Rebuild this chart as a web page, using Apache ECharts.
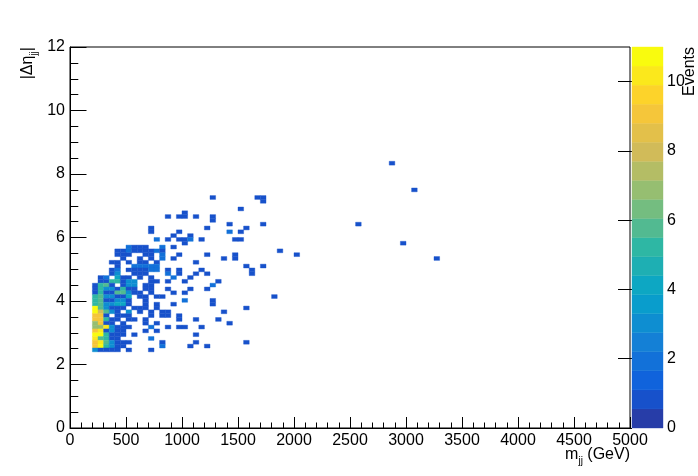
<!DOCTYPE html>
<html>
<head>
<meta charset="utf-8">
<script src="https://cdn.jsdelivr.net/npm/echarts@6/dist/echarts.min.js"></script>
<style>
html,body{margin:0;padding:0;background:#fff;}
#c{width:698px;height:476px;}
</style>
</head>
<body>
<div id="c"></div>
<script>
// ---------------- data ----------------
const mjjBinWidth = 50;      // GeV
const detaBinWidth = 0.12;   // |delta eta| bin
const zMax = 11;             // colour scale max
const nContours = 20;
const xTicks = [0, 5000, 500];
const yTicks = [0, 12, 2];
const zLabels = [0, 2, 4, 6, 8, 10];

// rows: [deta bin index, [[mjj bin index, events], ...]]
const upperRows = [
  [69, [[57,1]]],
  [62, [[61,1]]],
  [60, [[25,1],[33,1],[34,1]]],
  [59, [[34,1]]],
  [57, [[30,1]]],
  [56, [[20,1]]],
  [55, [[17,1],[19,1],[20,1],[22,1],[25,1]]],
  [54, [[25,1]]],
  [53, [[28,1],[34,1],[51,1]]],
  [52, [[14,1],[24,1],[31,1]]],
  [51, [[14,1],[19,1],[28,2],[30,1]]],
  [50, [[18,1],[21,1]]],
  [49, [[15,2],[17,1],[19,1],[20,1],[21,2],[23,1],[29,1],[30,1]]],
  [48, [[20,1],[59,1]]],
  [47, [[10,2],[11,1],[12,1],[13,1],[16,2],[18,1]]],
  [46, [[8,1],[9,1],[10,2],[11,1],[12,1],[13,1],[14,1],[15,2],[16,1],[37,1]]],
  [45, [[8,1],[9,1],[10,1],[13,1],[14,1],[16,2],[19,1],[24,1],[29,1],[40,1]]],
  [44, [[9,1],[12,1],[14,1],[16,2],[18,1],[27,1],[29,1],[65,1]]],
  [43, [[7,1],[8,1],[10,1],[12,1],[13,1],[15,1],[22,1]]],
  [42, [[8,1],[11,2],[12,2],[13,2],[14,2],[15,2],[31,1],[34,1]]],
  [41, [[7,1],[8,2],[10,1],[11,1],[12,1],[13,1],[14,2],[15,2],[17,1],[19,1],[23,1],[32,1]]],
  [40, [[7,1],[8,3],[11,1],[12,1],[13,1],[17,2],[19,1],[22,1],[24,1],[32,1]]]
];
const lowerRows = [
  [39, [[5,1],[6,2],[8,4],[9,1],[10,1],[12,1],[14,1],[18,2],[21,1]]],
  [38, [[5,1],[6,1],[7,5],[8,5],[9,1],[10,3],[11,3],[14,1],[15,1],[17,1],[20,1],[26,1]]],
  [37, [[4,1],[5,5],[6,6],[7,1],[9,1],[10,3],[11,3],[13,1],[14,1],[25,2]]],
  [36, [[4,1],[5,5],[6,3],[7,3],[8,1],[9,5],[10,1],[11,1],[13,1],[14,1],[17,1],[21,1],[24,1]]],
  [35, [[4,1],[5,5],[6,1],[7,1],[8,6],[9,6],[10,3],[11,1],[12,1],[14,1],[18,1],[20,1]]],
  [34, [[4,5],[5,6],[6,3],[7,3],[8,1],[9,1],[10,4],[12,1],[13,1],[15,1],[16,1],[36,1]]],
  [33, [[4,5],[5,6],[6,1],[7,1],[8,3],[9,3],[10,1],[13,1],[20,2],[25,1]]],
  [32, [[4,5],[5,6],[6,3],[7,3],[8,4],[9,4],[10,1],[13,1],[15,1],[18,1],[25,1]]],
  [31, [[4,11],[5,6],[6,3],[7,1],[8,1],[9,1],[11,1],[12,1],[13,1],[15,1],[31,1]]],
  [30, [[4,11],[5,8],[6,6],[7,3],[8,1],[10,3],[12,1],[14,1],[16,1],[17,1],[27,1]]],
  [29, [[4,9],[5,9],[6,1],[8,1],[9,1],[10,1],[14,1],[16,1],[17,1],[19,1]]],
  [28, [[4,9],[5,9],[6,5],[7,1],[8,1],[10,1],[11,1],[13,1],[19,1],[22,1],[26,1]]],
  [27, [[4,7],[5,9],[6,1],[7,1],[9,1],[13,1],[15,1],[28,1]]],
  [26, [[4,7],[5,7],[6,10],[7,3],[8,1],[9,1],[10,1],[14,2],[17,1],[19,1],[20,1],[23,1]]],
  [25, [[4,9],[5,10],[6,1],[7,3],[8,1],[9,1],[13,1],[15,1]]],
  [24, [[4,11],[5,11],[6,5],[7,1],[8,1],[9,1],[11,1],[22,1]]],
  [23, [[4,10],[5,6],[6,5],[7,1],[8,1],[14,2]]],
  [22, [[4,9],[5,10],[6,6],[7,3],[8,1],[9,1],[10,1],[16,1],[22,1],[31,1]]],
  [21, [[4,9],[5,11],[6,5],[7,3],[8,1],[9,1],[16,2],[21,1],[24,1]]],
  [20, [[4,3],[5,1],[6,1],[7,1],[8,1],[10,1],[14,1]]]
];

// ROOT kBird palette stops
const palStops = [0.0, 0.125, 0.25, 0.375, 0.5, 0.625, 0.75, 0.875, 1.0];
const palR = [0.2082, 0.0592, 0.0780, 0.0232, 0.1802, 0.5301, 0.8186, 0.9956, 0.9764];
const palG = [0.1664, 0.3599, 0.5041, 0.6419, 0.7178, 0.7492, 0.7328, 0.7862, 0.9832];
const palB = [0.5293, 0.8684, 0.8385, 0.7914, 0.6425, 0.4662, 0.3499, 0.1968, 0.0539];

// ---------------- build ----------------
function palColor(f) {
  let s = 0;
  while (s < palStops.length - 2 && f > palStops[s + 1]) s++;
  const t = (f - palStops[s]) / (palStops[s + 1] - palStops[s]);
  const c = a => Math.round(255 * (a[s] + t * (a[s + 1] - a[s])));
  return 'rgb(' + c(palR) + ',' + c(palG) + ',' + c(palB) + ')';
}
const step = zMax / nContours;
const pieces = [];
const barData = [];
for (let k = 0; k < nContours; k++) {
  const idx = Math.floor((k + 0.99) * 255 / nContours);
  const col = palColor(Math.min(idx, 254) / 254);
  const p = { gte: k * step, color: col };
  if (k < nContours - 1) p.lt = (k + 1) * step;
  pieces.push(p);
  barData.push([0, k * step, (k + 0.5) * step]);
}
const histData = [];
upperRows.concat(lowerRows).forEach(([j, cells]) => {
  cells.forEach(([i, n]) => histData.push([i * mjjBinWidth, +(j * detaBinWidth).toFixed(2), n]));
});

const font = '"Liberation Sans", Arial, Helvetica, sans-serif';
const plain = v => String(v);
const chart = echarts.init(document.getElementById('c'), null, { renderer: 'canvas' });

chart.setOption({
  backgroundColor: '#ffffff',
  animation: false,
  grid: [
    { left: 70, top: 47, width: 560, height: 381, show: true, borderColor: '#000', borderWidth: 1, backgroundColor: 'transparent' },
    { left: 632, top: 47, width: 31, height: 381, show: false }
  ],
  xAxis: [
    {
      gridIndex: 0, type: 'value', min: xTicks[0], max: xTicks[1], interval: xTicks[2],
      axisLine: { show: true, lineStyle: { color: '#000', width: 1 } },
      axisTick: { show: true, inside: true, length: 11, lineStyle: { color: '#000' } },
      minorTick: { show: true, splitNumber: 5, length: 5.5, lineStyle: { color: '#000' } },
      splitLine: { show: false },
      axisLabel: { color: '#000', fontSize: 16, fontFamily: font, margin: 5, formatter: plain }
    },
    { gridIndex: 1, type: 'value', min: 0, max: 1, show: false }
  ],
  yAxis: [
    {
      gridIndex: 0, type: 'value', min: yTicks[0], max: yTicks[1], interval: yTicks[2],
      axisLine: { show: true, lineStyle: { color: '#000', width: 1 } },
      axisTick: { show: true, inside: true, length: 16.5, lineStyle: { color: '#000' } },
      minorTick: { show: true, splitNumber: 4, length: 8.3, lineStyle: { color: '#000' } },
      splitLine: { show: false },
      axisLabel: { color: '#000', fontSize: 16, fontFamily: font, margin: 5, formatter: plain }
    },
    {
      gridIndex: 1, type: 'value', min: 0, max: zMax, position: 'right',
      axisLine: { show: false },
      axisTick: { show: true, inside: true, length: 14, customValues: zLabels, lineStyle: { color: '#000' } },
      splitLine: { show: false },
      axisLabel: { color: '#000', fontSize: 16, fontFamily: font, margin: 4, customValues: zLabels, formatter: plain }
    }
  ],
  visualMap: {
    type: 'piecewise', show: false, dimension: 2, seriesIndex: [0, 1], pieces: pieces
  },
  series: [
    {
      type: 'custom', xAxisIndex: 0, yAxisIndex: 0, data: histData,
      encode: { x: 0, y: 1 }, clip: true,
      renderItem: function (params, api) {
        const x0 = api.value(0), y0 = api.value(1);
        const p0 = api.coord([x0, y0]);
        const p1 = api.coord([x0 + mjjBinWidth, y0 + detaBinWidth]);
        const col = api.visual('color');
        return { type: 'rect', shape: { x: p0[0], y: p1[1], width: p1[0] - p0[0], height: p0[1] - p1[1] },
                 style: { fill: col, stroke: col, lineWidth: 0.4 } };
      }
    },
    {
      type: 'custom', xAxisIndex: 1, yAxisIndex: 1, data: barData,
      encode: { x: 0, y: 1 },
      renderItem: function (params, api) {
        const lo = api.value(1);
        const p0 = api.coord([0, lo]);
        const p1 = api.coord([1, lo + step]);
        const col = api.visual('color');
        return { type: 'rect', shape: { x: p0[0], y: p1[1], width: p1[0] - p0[0], height: p0[1] - p1[1] },
                 style: { fill: col, stroke: col, lineWidth: 0.4 } };
      }
    }
  ],
  graphic: [
    {
      type: 'text', x: 630, y: 455,
      style: {
        text: '{a|m}{s|jj}{a| (GeV)}', align: 'right', verticalAlign: 'middle',
        rich: {
          a: { fontSize: 16, fontFamily: font, fill: '#000', lineHeight: 22, verticalAlign: 'middle' },
          s: { fontSize: 10, fontFamily: font, fill: '#000', lineHeight: 22, verticalAlign: 'bottom' }
        }
      }
    },
    {
      type: 'text', x: 28, y: 47, rotation: Math.PI / 2,
      style: {
        text: '{a||Δη}{s|jj}{a||}', align: 'right', verticalAlign: 'middle',
        rich: {
          a: { fontSize: 16, fontFamily: font, fill: '#000', lineHeight: 22, verticalAlign: 'middle' },
          s: { fontSize: 10, fontFamily: font, fill: '#000', lineHeight: 22, verticalAlign: 'bottom' }
        }
      }
    },
    {
      type: 'text', x: 690, y: 47, rotation: Math.PI / 2,
      style: { text: 'Events', align: 'right', verticalAlign: 'middle', fontSize: 16, fontFamily: font, fill: '#000' }
    }
  ]
});
</script>
</body>
</html>
